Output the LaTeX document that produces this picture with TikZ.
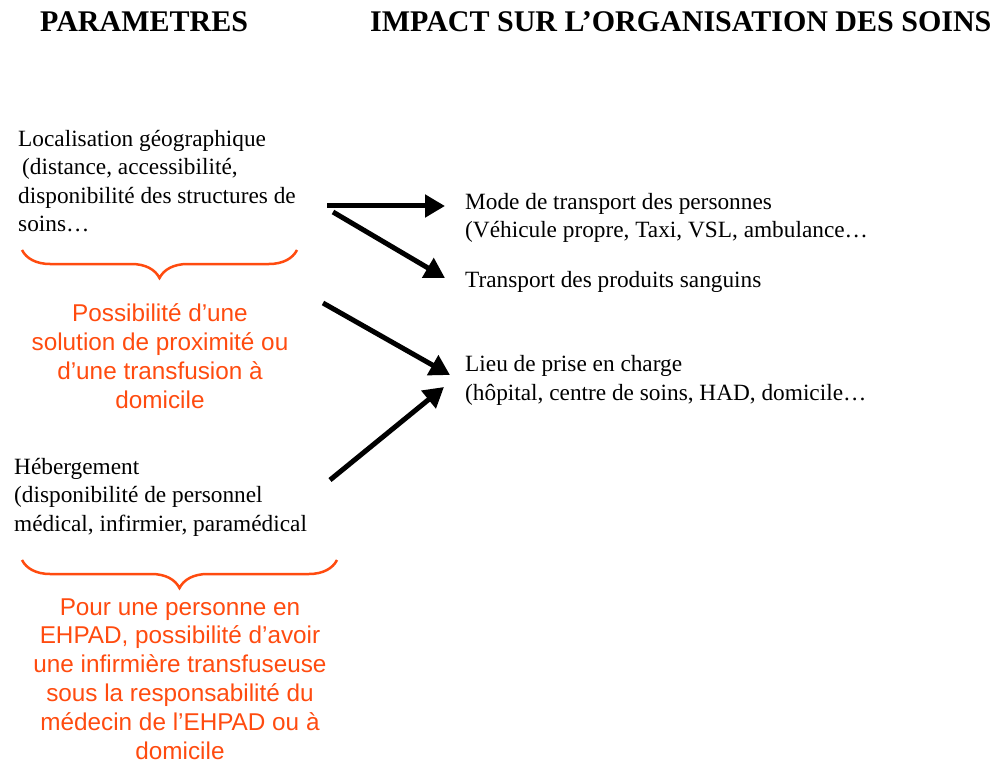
\documentclass[tikz,border=0pt]{standalone}
\usepackage{fontspec}
\setmainfont{Liberation Serif}
\newfontfamily\sansnote{Liberation Sans}
\usetikzlibrary{arrows.meta,decorations.pathreplacing}
\definecolor{orangenote}{RGB}{255,75,15}

\begin{document}
\begin{tikzpicture}[x=1pt,y=-1pt,
    titre/.style={font=\bfseries\fontsize{30}{34}\selectfont, inner sep=0, anchor=base west},
    param/.style={font=\fontsize{23.3}{28.5}\selectfont, align=left, inner sep=0, anchor=base west},
    note/.style={font=\sansnote\fontsize{24.3}{28.8}\selectfont, text=orangenote, align=center, inner sep=0, anchor=base},
    fleche/.style={line width=5pt, -{Triangle[length=20pt,width=22pt]}},
    accolade/.style={draw=orangenote, line width=2.5pt, decorate, decoration={brace,amplitude=28pt}}]
    \useasboundingbox (0,0) rectangle (1003,767);

    % titres
    \node[titre] (tparam) at (40,32) {PARAMETRES};
    \node[titre] (timpact) at (370,32) {IMPACT SUR L’ORGANISATION DES SOINS};

    % parametres (ancre = ligne du bas)
    \node[param] (loc) at (18,232) {Localisation géographique\\\hspace*{4pt}(distance, accessibilité,\\disponibilité des structures de\\soins…};
    \node[param] (heb) at (14,531) {Hébergement\\(disponibilité de personnel\\médical, infirmier, paramédical};

    % impact
    \node[param] (mode) at (465,238) {Mode de transport des personnes\\(Véhicule propre, Taxi, VSL, ambulance…};
    \node[param] (prod) at (465,287) {Transport des produits sanguins};
    \node[param] (lieu) at (465,400) {Lieu de prise en charge\\(hôpital, centre de soins, HAD, domicile…};

    % accolades et remarques
    \draw[accolade] (297,250) -- (22,250);
    \node[note] (rem1) at (160,408) {Possibilité d’une\\solution de proximité ou\\d’une transfusion à\\domicile};
    \draw[accolade] (337,560) -- (22,560);
    \node[note] (rem2) at (180,759) {Pour une personne en\\EHPAD, possibilité d’avoir\\une infirmière transfuseuse\\sous la responsabilité du\\médecin de l’EHPAD ou à\\domicile};

    % fleches
    \coordinate (dep1) at (327,206);
    \coordinate (fin1) at (445,206);
    \coordinate (dep2) at (333,212);
    \coordinate (fin2) at (445,278);
    \coordinate (dep3) at (323,303);
    \coordinate (fin3) at (450,375);
    \coordinate (dep4) at (330,480);
    \coordinate (fin4) at (444,387);
    \draw[fleche] (dep1) -- (fin1);
    \draw[fleche] (dep2) -- (fin2);
    \draw[fleche] (dep3) -- (fin3);
    \draw[fleche] (dep4) -- (fin4);
\end{tikzpicture}
\end{document}
